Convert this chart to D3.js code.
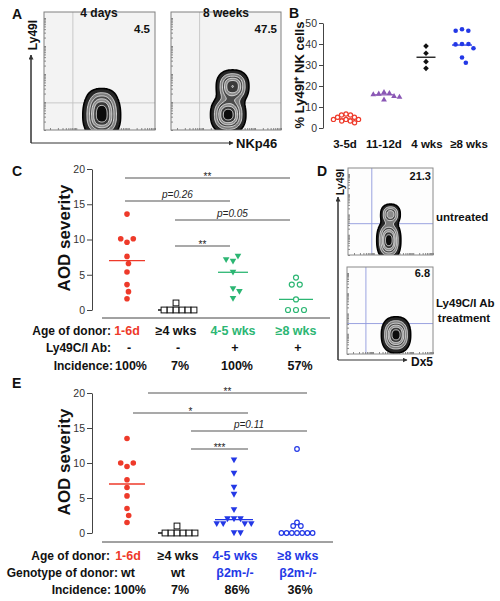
<!DOCTYPE html>
<html><head><meta charset="utf-8">
<script src="https://cdn.jsdelivr.net/npm/d3@7"></script>
<style>body{margin:0;background:#fff}svg{display:block}text{font-family:"Liberation Sans",Arial,Helvetica,sans-serif}</style>
</head><body><svg id="c" width="500" height="601"></svg>
<script>
// ---------------- DATA ----------------
// Panel A / D flow plots (density peaks in fraction-of-axis units: u,v,sx,sy,amp)
const flowTitlesA = ["4 days", "8 weeks"];
const flowPctA = ["4.5", "47.5"];
const flowPctD = ["21.3", "6.8"];
const flowPeaksA1 = [[0.52,0.12,0.09,0.10,1.0],[0.52,0.26,0.08,0.06,0.3]];
const flowPeaksA2 = [[0.52,0.13,0.085,0.085,1.0],[0.56,0.37,0.08,0.075,0.9]];
const flowPeaksD1 = [[0.48,0.17,0.075,0.12,1.0],[0.50,0.47,0.065,0.065,0.7]];
const flowPeaksD2 = [[0.57,0.22,0.09,0.11,1.0]];

// Panel B
const bCategories = ["3-5d", "11-12d", "4 wks", "\u22658 wks"];
const bTicks = [0, 10, 20, 30, 40, 50];
const b3to5d = [6.7, 6.2, 6.2, 5.1, 5.1, 4.1, 4.1, 4.1, 3.3, 3.3, 2.5];
const b11to12d = [17.3, 16.8, 16.5, 16.2, 15.4, 15.0, 13.7];
const b4wks = [39.0, 35.6, 31.6, 28.4];
const b8wks = [47.0, 46.3, 46.3, 40.0, 40.0, 39.8, 38.0, 33.6, 31.1];
const bMeans = [4.3, 15.8, 33.7, 39.5];

// Panel C
const cAge = ["1-6d", "\u22654 wks", "4-5 wks", "\u22658 wks"];
const cAb = ["-", "-", "+", "+"];
const cIncidence = ["100%", "7%", "100%", "57%"];
const cTicks = [0, 5, 10, 15, 20];
const c1to6d = [13.6, 9.6, 10.1, 10.1, 7.6, 6.6, 5.4, 3.6, 2.6, 1.6];
const c4wks = [1.0, 0, 0, 0, 0, 0, 0];
const c4to5wksAb = [6.9, 7.6, 7.1, 5.35, 3.0, 2.6, 1.6];
const c8wksAb = [4.6, 3.6, 3.6, 1.5, 0, 0, 0];
const cMedians = [7.0, 0, 5.35, 1.5];
const cSig = ["**", "p=0.26", "p=0.05", "**"];

// Panel E
const eAge = ["1-6d", "\u22654 wks", "4-5 wks", "\u22658 wks"];
const eGenotype = ["wt", "wt", "\u03B22m-/-", "\u03B22m-/-"];
const eIncidence = ["100%", "7%", "86%", "36%"];
const e1to6d = [13.5, 9.5, 10.0, 10.0, 7.6, 6.5, 5.3, 3.5, 2.5, 1.5];
const e4wks = [1.0, 0, 0, 0, 0, 0, 0];
const e4to5wksB2m = [10.4, 8.5, 6.5, 5.5, 3.3, 2.0, 2.0, 2.0, 1.3, 1.3, 1.3, 1.3, 0, 0];
const e8wksB2m = [12.0, 1.5, 1.0, 1.0, 0, 0, 0, 0, 0, 0, 0];
const eMedians = [7.0, 0, 1.9, 0];
const eSig = ["**", "*", "p=0.11", "***"];

// ---------------- STYLE ----------------
const RED = "#ee3a2a", GREEN = "#2cb673", BLUE = "#2338e6", PURPLE = "#8a57b5";
const svg = d3.select("#c");
const defs = svg.append("defs");
defs.append("marker").attr("id","arr").attr("viewBox","0 0 10 10").attr("refX",9).attr("refY",5)
  .attr("markerWidth",5).attr("markerHeight",5).attr("orient","auto")
  .append("path").attr("d","M0,0L10,5L0,10Z").attr("fill","#333");

function txt(x, y, s, o = {}) {
  const t = svg.append("text").attr("x", x).attr("y", y).text(s)
    .attr("font-size", o.size || 12).attr("font-weight", o.weight || "bold")
    .attr("text-anchor", o.anchor || "start").attr("fill", o.fill || "#111");
  if (o.style) t.attr("font-style", o.style);
  if (o.rot) t.attr("transform", `rotate(-90,${x},${y})`);
  return t;
}

// ---------------- FLOW PLOTS ----------------
let clipN = 0;
const levels = [0.1, 0.28, 0.45, 0.6, 0.75, 0.9];
const fills = ["#262626", "#7d7d7d", "#4a4a4a", "#8c8c8c", "#3a3a3a", "#0c0c0c"];
function flow(x0, y0, w, h, peaks, opt) {
  const g = svg.append("g");
  const id = "clip" + (clipN++);
  defs.append("clipPath").attr("id", id).append("rect").attr("x", x0).attr("y", y0).attr("width", w).attr("height", h);
  g.append("rect").attr("x", x0).attr("y", y0).attr("width", w).attr("height", h).attr("fill", opt.bg);
  g.append("line").attr("x1", x0 + opt.gx * w).attr("x2", x0 + opt.gx * w).attr("y1", y0).attr("y2", y0 + h)
    .attr("stroke", opt.gate).attr("stroke-width", 0.9);
  g.append("line").attr("x1", x0).attr("x2", x0 + w).attr("y1", y0 + (1 - opt.gy) * h).attr("y2", y0 + (1 - opt.gy) * h)
    .attr("stroke", opt.gate).attr("stroke-width", 0.9);
  const ly = d3.scaleLog().domain([10, 1e5]).range([y0 + h, y0 + 6]);
  const lx = d3.scaleLog().domain([10, 1e5]).range([x0 + 6, x0 + w]);
  g.append("g").attr("transform", `translate(${x0},0)`).call(d3.axisRight(ly).tickSize(2).tickFormat("").tickSizeOuter(0))
    .call(a => { a.select(".domain").remove(); a.selectAll("line").attr("stroke", "#888"); });
  g.append("g").attr("transform", `translate(0,${y0 + h})`).call(d3.axisTop(lx).tickSize(2).tickFormat("").tickSizeOuter(0))
    .call(a => { a.select(".domain").remove(); a.selectAll("line").attr("stroke", "#888"); });
  const n = 100, m = 100, vals = new Array(n * m);
  for (let j = 0; j < m; j++) for (let i = 0; i < n; i++) {
    const u = (i + 0.5) / n, v = 1 - (j + 0.5) / m;
    let s = 0;
    for (const p of peaks) {
      const du = Math.abs(u - p[0]) / p[2], dv = Math.abs(v - p[1]) / p[3];
      s += p[4] * Math.exp(-(Math.pow(du, 2.4) + Math.pow(dv, 2.4)) / 2);
    }
    vals[j * n + i] = s;
  }
  const cs = d3.contours().size([n, m]).thresholds(levels)(vals);
  const proj = d3.geoTransform({ point(px, py) { this.stream.point(x0 + px * w / n, y0 + py * h / m); } });
  const path = d3.geoPath(proj);
  g.append("g").attr("clip-path", `url(#${id})`).selectAll("path").data(cs).join("path")
    .attr("d", path).attr("fill", (d, i) => fills[i])
    .attr("stroke", (d, i) => i ? "#f2f2f2" : "#000").attr("stroke-width", (d, i) => i ? 0.8 : 1.6);
  g.append("rect").attr("x", x0).attr("y", y0).attr("width", w).attr("height", h)
    .attr("fill", "none").attr("stroke", opt.border).attr("stroke-width", 1);
}

// Panel A
txt(12, 19, "A", { size: 14 });
flow(44, 12, 111, 118, flowPeaksA1, { bg: "#f3f3f3", gate: "#c4c4c4", border: "#808080", gx: 0.26, gy: 0.23 });
flow(171, 12, 110, 118, flowPeaksA2, { bg: "#f3f3f3", gate: "#c4c4c4", border: "#808080", gx: 0.26, gy: 0.23 });
txt(99, 17, flowTitlesA[0], { size: 12, anchor: "middle" });
txt(226, 17, flowTitlesA[1], { size: 12, anchor: "middle" });
txt(150, 33, flowPctA[0], { size: 11.5, anchor: "end" });
txt(277, 33, flowPctA[1], { size: 11.5, anchor: "end" });
svg.append("path").attr("d", "M31,55V143H233").attr("fill", "none").attr("stroke", "#333").attr("stroke-width", 1)
  .attr("marker-end", "url(#arr)");
svg.append("path").attr("d", "M31,143V55").attr("fill", "none").attr("stroke", "#333").attr("stroke-width", 1)
  .attr("marker-end", "url(#arr)");
txt(37, 35, "Ly49I", { size: 12, anchor: "middle", rot: true });
txt(236, 148, "NKp46", { size: 13 });

// Panel D
txt(317, 176, "D", { size: 14 });
flow(348, 168, 85, 87, flowPeaksD1, { bg: "#fdfdfd", gate: "#9098dc", border: "#8a8a8a", gx: 0.28, gy: 0.36 });
flow(347, 267, 86, 87, flowPeaksD2, { bg: "#fdfdfd", gate: "#9098dc", border: "#8a8a8a", gx: 0.22, gy: 0.35 });
txt(431, 180, flowPctD[0], { size: 11, anchor: "end" });
txt(430, 277, flowPctD[1], { size: 11, anchor: "end" });
svg.append("path").attr("d", "M338,197V360H407").attr("fill", "none").attr("stroke", "#333").attr("marker-end", "url(#arr)");
svg.append("path").attr("d", "M338,360V197").attr("fill", "none").attr("stroke", "#333").attr("marker-end", "url(#arr)");
txt(344, 182, "Ly49I", { size: 10.5, anchor: "middle", rot: true });
txt(411, 366, "Dx5", { size: 12 });
txt(436, 221, "untreated", { size: 11.5 });
txt(436, 307, "Ly49C/I Ab", { size: 11.5 });
txt(464, 322, "treatment", { size: 11.5, anchor: "middle" });

// ---------------- SCATTER HELPERS ----------------
function swarm(vals, y, D) {
  const placed = [];
  return vals.map(v => {
    const py = y(v), iv = [];
    placed.forEach(p => { const dy = Math.abs(p.y - py); if (dy < D - 1e-6) { const w = Math.sqrt(D * D - dy * dy); iv.push([p.x - w, p.x + w]); } });
    const cands = [0]; iv.forEach(a => cands.push(a[0], a[1]));
    cands.sort((a, b) => Math.abs(a) - Math.abs(b) || b - a);
    let x = 0;
    for (const c of cands) if (iv.every(a => c <= a[0] + 1e-6 || c >= a[1] - 1e-6)) { x = c; break; }
    placed.push({ y: py, x }); return x;
  });
}
function marker(g, type, x, y, s, color) {
  if (type === "dot") g.append("circle").attr("cx", x).attr("cy", y).attr("r", s).attr("fill", color);
  else if (type === "ocircle") g.append("circle").attr("cx", x).attr("cy", y).attr("r", s).attr("fill", "#fff").attr("stroke", color).attr("stroke-width", 1.2);
  else if (type === "tridown") g.append("path").attr("d", `M${x - s},${y - s * 0.8}L${x + s},${y - s * 0.8}L${x},${y + s * 0.95}Z`).attr("fill", color);
  else if (type === "triup") g.append("path").attr("d", `M${x - s},${y + s * 0.8}L${x + s},${y + s * 0.8}L${x},${y - s * 0.95}Z`).attr("fill", color);
  else if (type === "diamond") g.append("path").attr("d", `M${x},${y - s}L${x + s},${y}L${x},${y + s}L${x - s},${y}Z`).attr("fill", color);
  else if (type === "square") g.append("rect").attr("x", x - s).attr("y", y - s).attr("width", 2 * s).attr("height", 2 * s).attr("fill", "#fff").attr("stroke", color).attr("stroke-width", 1);
}
function group(g, vals, cx, y, D, type, s, color, med, hw) {
  const off = swarm(vals, y, D);
  g.append("line").attr("x1", cx - hw).attr("x2", cx + hw).attr("y1", y(med)).attr("y2", y(med))
    .attr("stroke", color).attr("stroke-width", 1.3);
  vals.forEach((v, i) => marker(g, type, cx + off[i], y(v), s, color));
}
function yAxis(x, y, ticks, tl) {
  svg.append("g").attr("transform", `translate(${x},0)`)
    .call(d3.axisLeft(y).tickValues(ticks).tickSize(tl).tickPadding(2).tickSizeOuter(0))
    .call(a => {
      a.select(".domain").attr("stroke", "#444");
      a.selectAll("line").attr("stroke", "#444");
      a.selectAll("text").attr("font-size", 10.5).attr("fill", "#333").attr("font-family", '"Liberation Sans",Arial,sans-serif');
    });
}
function sig(label, x1, x2, yl) {
  svg.append("line").attr("x1", x1).attr("x2", x2).attr("y1", yl).attr("y2", yl).attr("stroke", "#555").attr("stroke-width", 1.2);
  const isP = label.startsWith("p");
  txt((x1 + x2) / 2, isP ? yl - 3 : yl + 2, label, isP ? { size: 10, weight: "normal", style: "italic", anchor: "middle", fill: "#222" } : { size: 10, weight: "normal", anchor: "middle", fill: "#222" });
}

// ---------------- PANEL B ----------------
txt(289, 18, "B", { size: 14 });
const yB = d3.scaleLinear().domain([0, 50]).range([128, 23]);
const xB = d3.scaleOrdinal().domain(bCategories).range([346, 384, 426, 462]);
yAxis(323, yB, bTicks, 4);
txt(304, 75, "% Ly49I\u207A NK cells", { size: 13, anchor: "middle", rot: true });
const gB = svg.append("g");
group(gB, b3to5d, xB(bCategories[0]), yB, 4.6, "ocircle", 2.1, RED, bMeans[0], 9.5);
group(gB, b11to12d, xB(bCategories[1]), yB, 5.5, "triup", 2.9, PURPLE, bMeans[1], 9.5);
group(gB, b4wks, xB(bCategories[2]), yB, 6, "diamond", 2.8, "#111", bMeans[2], 9.5);
group(gB, b8wks, xB(bCategories[3]), yB, 6.5, "dot", 2.3, BLUE, bMeans[3], 10);
const bLabelShift = [-1, 0, 1, 7];
bCategories.forEach((c, i) => txt(xB(c) + bLabelShift[i], 148, c, { size: 11.5, anchor: "middle" }));

// ---------------- PANEL C ----------------
txt(12, 176, "C", { size: 14 });
const yC = d3.scaleLinear().domain([0, 20]).range([310, 169]);
const xC = d3.scaleOrdinal().domain(cAge).range([127, 176, 233, 296]);
yAxis(92, yC, cTicks, 5);
txt(70, 238, "AOD severity", { size: 17, anchor: "middle", rot: true });
svg.append("line").attr("x1", 102).attr("x2", 330).attr("y1", 318).attr("y2", 318).attr("stroke", "#444");
const gC = svg.append("g");
group(gC, c1to6d, xC(cAge[0]), yC, 7.2, "dot", 2.8, RED, cMedians[0], 18);
group(gC, c4wks, xC(cAge[1]), yC, 6, "square", 2.9, "#111", cMedians[1], 18);
group(gC, c4to5wksAb, xC(cAge[2]), yC, 7, "tridown", 3.3, GREEN, cMedians[2], 15);
group(gC, c8wksAb, xC(cAge[3]), yC, 8, "ocircle", 2.5, GREEN, cMedians[3], 17);
const cx = i => xC(cAge[i]);
sig(cSig[0], cx(0) - 2, cx(3) - 6, 178);
sig(cSig[1], cx(0) - 2, cx(2) - 3, 201);
sig(cSig[2], cx(1) - 1, cx(3) - 6, 220);
sig(cSig[3], cx(1) - 1, cx(2) - 3, 246);
txt(111, 335, "Age of donor:", { size: 12, anchor: "end" });
const cAgeCol = [RED, "#111", GREEN, GREEN];
cAge.forEach((c, i) => txt(xC(c), 335, c, { size: 12.5, anchor: "middle", fill: cAgeCol[i] }));
txt(111, 352, "Ly49C/I Ab:", { size: 12, anchor: "end" });
cAb.forEach((c, i) => txt(cx(i) + 2, 352, c, { size: 12.5, anchor: "middle" }));
txt(113, 370, "Incidence:", { size: 12, anchor: "end" });
cIncidence.forEach((c, i) => txt(cx(i) + 4, 370, c, { size: 12.5, anchor: "middle" }));

// ---------------- PANEL E ----------------
txt(12, 388, "E", { size: 14 });
const yE = d3.scaleLinear().domain([0, 20]).range([533, 393]);
const xE = d3.scaleOrdinal().domain(eAge).range([127, 177, 234, 297]);
yAxis(92, yE, cTicks, 5);
txt(70, 462, "AOD severity", { size: 17, anchor: "middle", rot: true });
svg.append("line").attr("x1", 102).attr("x2", 333).attr("y1", 542).attr("y2", 542).attr("stroke", "#444");
const gE = svg.append("g");
group(gE, e1to6d, xE(eAge[0]), yE, 7.2, "dot", 2.8, RED, eMedians[0], 18);
group(gE, e4wks, xE(eAge[1]), yE, 6, "square", 2.9, "#111", eMedians[1], 19);
group(gE, e4to5wksB2m, xE(eAge[2]), yE, 6.5, "tridown", 3.3, BLUE, eMedians[2], 19);
group(gE, e8wksB2m, xE(eAge[3]), yE, 5.2, "ocircle", 2.3, BLUE, eMedians[3], 18);
sig(eSig[0], 148, 307, 393);
sig(eSig[1], 133, 248, 413);
sig(eSig[2], 191, 307, 431);
sig(eSig[3], 191, 248, 449);
txt(110, 560, "Age of donor:", { size: 12, anchor: "end" });
const eAgeCol = [RED, "#111", BLUE, BLUE];
eAge.forEach((c, i) => txt(xE(c) + 1, 560, c, { size: 12.5, anchor: "middle", fill: eAgeCol[i] }));
txt(118, 577, "Genotype of donor:", { size: 12, anchor: "end" });
const eGenoCol = ["#111", "#111", BLUE, BLUE];
eGenotype.forEach((c, i) => txt(xE(eAge[i]) + 1, 577, c, { size: 12.5, anchor: "middle", fill: eGenoCol[i] }));
txt(111, 594, "Incidence:", { size: 12, anchor: "end" });
eIncidence.forEach((c, i) => txt(xE(eAge[i]) + 3, 594, c, { size: 12.5, anchor: "middle" }));
</script></body></html>
